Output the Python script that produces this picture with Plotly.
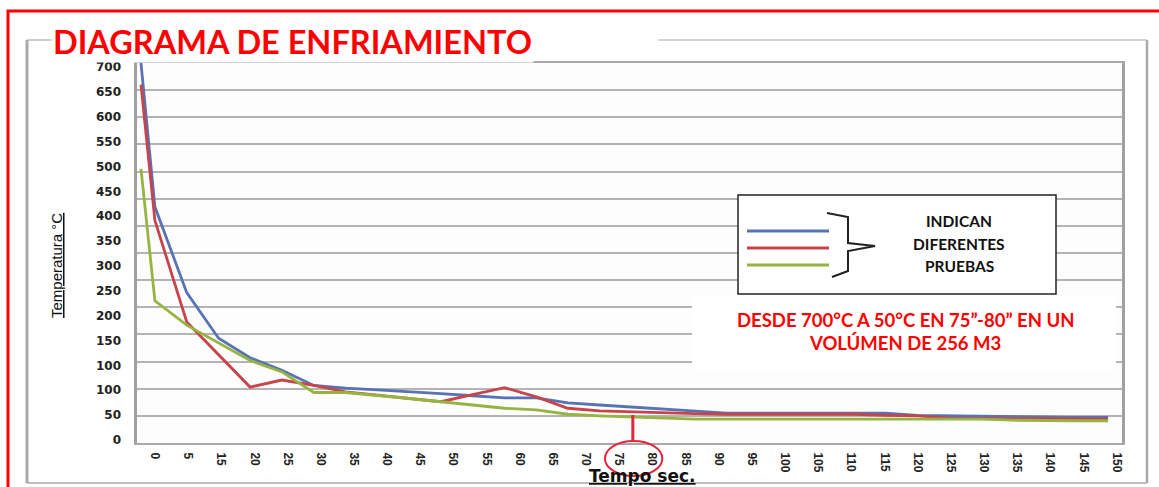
import plotly.graph_objects as go

# ---------------- data ----------------
x_labels = ["0", "5", "15", "20", "25", "30", "35", "40", "45", "50", "55", "60", "65", "70",
            "75", "80", "85", "90", "95", "100", "105", "110", "115", "120", "125", "130",
            "135", "140", "145", "150"]
y_labels = ["0", "50", "100", "100", "150", "200", "250", "300", "350", "400", "450",
            "500", "550", "600", "650", "700"]

# sample positions along the category axis (label slots), first sample at the axis origin
x_pos = [-0.42, 0.0, 0.96, 1.92, 2.87, 3.83, 4.79, 5.75, 6.71, 7.66, 8.62, 9.58, 10.54,
         11.5, 12.45, 13.41, 14.37, 15.33, 16.29, 17.24, 18.2, 19.16, 20.12, 21.08, 22.03,
         22.99, 23.95, 24.91, 25.87, 26.82, 27.78, 28.74]

prueba_azul = [700, 435, 277, 193, 157, 134, 106, 101, 98, 95, 91, 87, 83, 83, 74, 70, 66,
               62, 58, 55, 55, 55, 55, 55, 55, 51, 50, 49, 48, 47, 47, 47]
prueba_roja = [660, 410, 223, 163, 103, 116, 106, 94, 88, 82, 76, 89, 102, 85, 64, 59, 57,
               56, 54, 53, 53, 53, 53, 53, 51, 50, 46, 45, 45, 45, 44, 44]
prueba_verde = [505, 262, 217, 185, 152, 131, 93, 93, 88, 82, 76, 70, 64, 61, 53, 50, 48,
                45, 44, 44, 44, 44, 44, 44, 44, 44, 44, 44, 42, 41, 41, 41]

c_blue = "#5873b3"
c_red = "#c9434b"
c_green = "#95b540"

# ---------------- figure geometry ----------------
FW, FH = 1159, 487
L, R, T, B = 137, 1122, 63, 443
W, H = R - L, B - T


def px(x):
    return (x - L) / W


def py(y):
    return (B - y) / H


fig = go.Figure()
for name, vals, col in [("Prueba 1", prueba_azul, c_blue),
                        ("Prueba 2", prueba_roja, c_red),
                        ("Prueba 3", prueba_verde, c_green)]:
    fig.add_trace(go.Scatter(x=x_pos, y=vals, mode="lines", name=name,
                             line=dict(color=col, width=2.8), showlegend=False))

# invisible trace carrying the label axis
fig.add_trace(go.Scatter(x=[], y=[], yaxis="y2", showlegend=False))

grid_col = "#b4b4b4"
fig.update_layout(
    width=FW, height=FH,
    margin=dict(l=L, r=FW - R, t=T, b=FH - B),
    paper_bgcolor="white", plot_bgcolor="#fdfdfd",
    xaxis=dict(range=[-0.54, 29.16], tickmode="array", tickvals=list(range(len(x_labels))),
               ticktext=x_labels, tickangle=90, showgrid=False, zeroline=False,
               showline=True, linecolor="#a8a8a8", linewidth=2, mirror=True,
               ticks="", ticklabelstandoff=5,
               tickfont=dict(family="Liberation Sans", size=12, color="#222", weight="bold")),
    yaxis=dict(range=[0, 700], dtick=50, showgrid=True, gridcolor=grid_col, gridwidth=1.5,
               zeroline=False, showticklabels=False, showline=True, linecolor="#a0a0a0",
               linewidth=2.5, mirror=True, ticks=""),
    yaxis2=dict(overlaying="y", side="left", range=[-0.12, 15.16], tickmode="array",
                tickvals=list(range(len(y_labels))), ticktext=y_labels, showgrid=False,
                zeroline=False, showline=False, ticks="", ticklabelstandoff=15,
                tickfont=dict(family="DejaVu Sans", size=12, color="#222", weight="bold")),
)

shapes = []
# outer red frame
shapes.append(dict(type="rect", xref="paper", yref="paper", x0=px(8), x1=px(1175),
                   y0=py(11), y1=py(510), line=dict(color="#ff0000", width=3)))
# gray chart frame
gcol = "#a9a9a9"
for (x0, y0, x1, y1, w) in [(27, 40, 27, 483, 3), (1147, 40, 1147, 483, 2.5),
                            (27, 483, 1147, 483, 1.5), (27, 40, 52, 40, 1.2),
                            (658, 40, 1147, 40, 1.2)]:
    shapes.append(dict(type="line", xref="paper", yref="paper", x0=px(x0), y0=py(y0),
                       x1=px(x1), y1=py(y1), line=dict(color=gcol, width=w)))
# white box behind the red note
shapes.append(dict(type="rect", xref="paper", yref="paper", x0=px(692), x1=px(1116),
                   y0=py(295), y1=py(370), fillcolor="white", line=dict(width=0)))
# legend box
shapes.append(dict(type="rect", xref="paper", yref="paper", x0=px(738), x1=px(1056),
                   y0=py(195), y1=py(294), fillcolor="white",
                   line=dict(color="#222", width=1.5)))
for yy, col in [(231, c_blue), (248, c_red), (265, c_green)]:
    shapes.append(dict(type="line", xref="paper", yref="paper", x0=px(747), x1=px(829),
                       y0=py(yy), y1=py(yy), line=dict(color=col, width=3)))
# brace
brace_pts = [(827, 213), (848, 217), (848, 243), (875, 246), (848, 251), (848, 271), (832, 277)]
path = "M " + " L ".join(f"{px(a):.5f},{py(b):.5f}" for a, b in brace_pts)
shapes.append(dict(type="path", xref="paper", yref="paper", path=path,
                   line=dict(color="#222", width=2)))
# red marker at 75-80 s
shapes.append(dict(type="line", xref="x", yref="paper", x0=14.41, x1=14.41,
                   y0=py(415), y1=py(441), line=dict(color="#e0283a", width=3)))
shapes.append(dict(type="circle", xref="x", yref="paper", x0=13.57, x1=15.3,
                   y0=py(476), y1=py(441), line=dict(color="#e0283a", width=2)))
fig.update_layout(shapes=shapes)

ann = []
ann.append(dict(text="<b>DIAGRAMA DE ENFRIAMIENTO</b>", xref="paper", yref="paper",
                x=px(51), y=py(41), xanchor="left", yanchor="middle", showarrow=False,
                font=dict(family="Lato", size=32.5, color="#ff0000"),
                bgcolor="white"))
for txt, yy in [("INDICAN", 221), ("DIFERENTES", 244), ("PRUEBAS", 266)]:
    ann.append(dict(text=f"<b>{txt}</b>", xref="paper", yref="paper", x=px(959), y=py(yy),
                    xanchor="center", yanchor="middle", showarrow=False,
                    font=dict(family="Lato", size=15.5, color="#111")))
for txt, yy in [("DESDE 700°C A 50°C EN 75”-80” EN UN", 320), ("VOLÚMEN DE 256 M3", 343)]:
    ann.append(dict(text=f"<b>{txt}</b>", xref="paper", yref="paper", x=px(905), y=py(yy),
                    xanchor="center", yanchor="middle", showarrow=False,
                    font=dict(family="Lato", size=18.5, color="#ff0000")))
ann.append(dict(text="<b><u>Tempo sec.</u></b>", xref="paper", yref="paper", x=px(642),
                y=py(476), xanchor="center", yanchor="middle", showarrow=False,
                font=dict(family="DejaVu Sans", size=17, color="#111")))
ann.append(dict(text="<u>Temperatura °C</u>", xref="paper", yref="paper", x=px(56),
                y=py(266), xanchor="center", yanchor="middle", showarrow=False,
                textangle=-90, font=dict(family="Liberation Sans", size=15, color="#111")))
fig.update_layout(annotations=ann)

fig.write_html("out.html", config={"displayModeBar": False},
               post_script="document.body.style.margin='0';document.body.style.overflow='hidden';")
